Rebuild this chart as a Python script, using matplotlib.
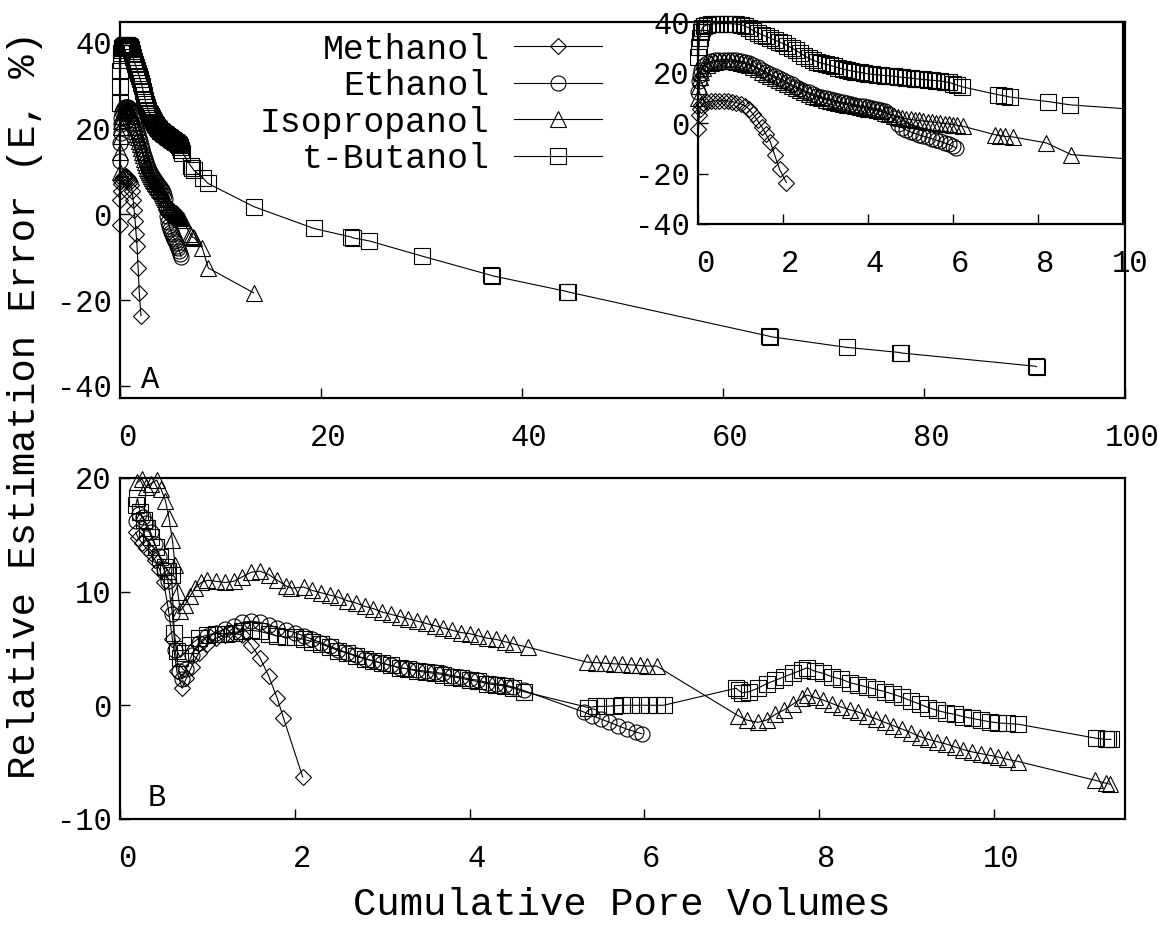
import numpy as np
import matplotlib
matplotlib.use("Agg")
import matplotlib.pyplot as plt
from matplotlib.transforms import ScaledTranslation

plt.rcParams['font.family'] = ['Liberation Mono', 'DejaVu Sans Mono']
plt.rcParams['axes.unicode_minus'] = False

# ---- panel A (and the 0-10 inset): relative error vs pore volumes ----
a_meth_x = [0.01, 0.03, 0.05, 0.08, 0.12, 0.2, 0.3, 0.4, 0.5, 0.6, 0.7, 0.8, 0.9, 1.0,
            1.1, 1.2, 1.3, 1.4, 1.5, 1.6, 1.7, 1.8, 1.92, 2.08]
a_meth_y = [-2.5, 3.3, 5.5, 7.0, 7.8, 8.3, 8.6, 8.8, 8.9, 8.9, 8.8, 8.5, 8.1, 7.6,
            6.9, 5.5, 3.4, 1.0, -1.5, -4.5, -7.5, -12.5, -18.4, -23.6]

a_eth_x = [0.01, 0.03, 0.05, 0.08, 0.12, 0.2, 0.3, 0.4, 0.5, 0.6, 0.7, 0.8, 0.9, 1.0,
           1.1, 1.2, 1.3, 1.4, 1.5, 1.6, 1.7, 1.8, 1.9, 2.0, 2.1, 2.2, 2.3, 2.4, 2.5,
           2.6, 2.7, 2.8, 2.9, 3.0, 3.1, 3.2, 3.3, 3.4, 3.5, 3.6, 3.7, 3.8, 3.9, 4.0,
           4.1, 4.2, 4.3, 4.4, 4.5, 4.6, 4.7, 4.8, 4.9, 5.0, 5.1, 5.2, 5.3, 5.4, 5.5,
           5.6, 5.7, 5.8, 5.9, 6.0, 6.08]
a_eth_y = [12.4, 16.5, 19.0, 21.0, 22.5, 23.8, 24.4, 24.8, 25.0, 25.1, 25.1, 25.0, 24.8, 24.5,
           24.1, 23.6, 22.9, 22.0, 21.0, 20.1, 19.3, 18.6, 17.8, 17.0, 16.2, 15.3, 14.4, 13.6, 12.8,
           12.1, 11.5, 10.9, 10.4, 9.9, 9.5, 9.0, 8.6, 8.2, 7.9, 7.5, 7.2, 6.9, 6.6, 6.3,
           6.0, 5.7, 5.3, 4.6, 3.5, 1.8, -0.4, -1.8, -2.8, -3.5, -4.1, -4.7, -5.2, -5.7, -6.2,
           -6.8, -7.3, -7.9, -8.5, -9.2, -9.9]

a_iso_x = [0.01, 0.03, 0.05, 0.08, 0.12, 0.2, 0.3, 0.4, 0.5, 0.6, 0.7, 0.8, 0.9, 1.0,
           1.1, 1.2, 1.3, 1.4, 1.5, 1.6, 1.7, 1.8, 1.9, 2.0, 2.1, 2.2, 2.3, 2.4, 2.5,
           2.6, 2.7, 2.8, 2.9, 3.0, 3.1, 3.2, 3.3, 3.4, 3.5, 3.6, 3.7, 3.8, 3.9, 4.0,
           4.1, 4.2, 4.3, 4.4, 4.5, 4.6, 4.7, 4.8, 4.9, 5.0, 5.1, 5.2, 5.3, 5.4, 5.5,
           5.6, 5.7, 5.8, 5.9, 6.0, 6.1, 6.24, 6.98, 7.1, 7.22, 7.41, 8.2, 8.78, 13.3]
a_iso_y = [9.8, 14.5, 18.3, 20.3, 21.8, 23.0, 23.8, 24.2, 24.4, 24.5, 24.5, 24.4, 24.2, 23.9,
           23.5, 23.0, 22.3, 21.4, 20.4, 19.5, 18.7, 17.9, 17.1, 16.3, 15.5, 14.6, 13.8, 13.0, 12.2,
           11.5, 10.9, 10.3, 9.8, 9.3, 8.9, 8.5, 8.1, 7.7, 7.3, 7.0, 6.6, 6.3, 6.0, 5.7,
           5.4, 5.0, 4.6, 4.1, 3.5, 2.9, 2.4, 2.0, 1.7, 1.4, 1.2, 1.0, 0.8, 0.6, 0.4,
           0.2, 0.0, -0.2, -0.4, -0.6, -0.9, -1.3, -4.6, -5.0, -5.3, -5.5, -7.9, -12.5, -18.3]

a_tbu_x = [0.01, 0.02, 0.04, 0.07, 0.1, 0.15, 0.2, 0.3, 0.4, 0.5, 0.6, 0.7, 0.8, 0.9, 1.0,
           1.1, 1.2, 1.3, 1.4, 1.5, 1.6, 1.7, 1.8, 1.9, 2.0, 2.1, 2.2, 2.3, 2.4, 2.5,
           2.6, 2.7, 2.8, 2.9, 3.0, 3.1, 3.2, 3.3, 3.4, 3.5, 3.6, 3.7, 3.8, 3.9, 4.0,
           4.1, 4.2, 4.3, 4.4, 4.5, 4.6, 4.7, 4.8, 4.9, 5.0, 5.1, 5.2, 5.3, 5.4, 5.5,
           5.6, 5.7, 5.8, 5.9, 6.0, 6.1, 6.2, 7.06, 7.2, 7.33, 8.24, 8.75, 13.3, 19.3,
           23.0, 23.2, 24.8, 30.0, 36.9, 37.0, 44.5, 44.6, 64.6, 64.7, 72.3, 77.6, 77.7,
           91.1, 91.2]
a_tbu_y = [26.0, 30.0, 33.5, 36.0, 37.6, 38.4, 38.8, 39.1, 39.3, 39.4, 39.4, 39.4, 39.3, 39.2, 39.0,
           38.5, 37.6, 36.6, 35.7, 35.0, 34.3, 33.6, 32.9, 32.2, 31.5, 30.7, 29.8, 28.8, 27.8, 26.7,
           25.7, 24.9, 24.3, 23.7, 23.3, 22.9, 22.4, 21.9, 21.4, 21.0, 20.7, 20.4, 20.1, 19.8, 19.5,
           19.3, 19.1, 19.0, 18.8, 18.7, 18.5, 18.3, 18.1, 18.0, 17.8, 17.6, 17.4, 17.3, 17.1, 16.9,
           16.8, 16.6, 16.4, 16.1, 15.6, 15.0, 14.4, 11.2, 10.8, 10.3, 8.5, 7.2, 1.8, -3.3,
           -5.3, -5.5, -6.2, -9.7, -14.2, -14.3, -18.0, -18.1, -28.4, -28.5, -31.0, -32.2, -32.3,
           -35.4, -35.5]

# ---- panel B ----
b_meth_x = [0.18, 0.21, 0.25, 0.3, 0.35, 0.4, 0.45, 0.5, 0.55, 0.6, 0.65, 0.71, 0.76, 0.82,
            0.9, 1.0, 1.1, 1.2, 1.3, 1.4, 1.5, 1.6, 1.7, 1.8, 1.87, 2.09]
b_meth_y = [15.2, 14.7, 14.3, 13.8, 13.4, 12.8, 12.0, 10.8, 8.6, 5.8, 3.0, 1.5, 2.4, 3.4,
            4.6, 5.4, 5.9, 6.2, 6.3, 6.2, 5.3, 4.2, 2.6, 0.6, -1.1, -6.3]

b_eth_x = [0.18, 0.22, 0.26, 0.3, 0.35, 0.4, 0.45, 0.5, 0.55, 0.6, 0.63, 0.67, 0.71, 0.76,
           0.82, 0.9, 1.0, 1.1, 1.2, 1.3, 1.4, 1.5, 1.6, 1.7, 1.8, 1.9, 2.0, 2.1, 2.2,
           2.3, 2.4, 2.5, 2.6, 2.7, 2.8, 2.9, 3.0, 3.1, 3.2, 3.3, 3.4, 3.5, 3.6, 3.7,
           3.8, 3.9, 4.0, 4.1, 4.2, 4.3, 4.4, 4.5, 4.62, 5.31, 5.4, 5.5, 5.6, 5.7, 5.8,
           5.9, 5.97]
b_eth_y = [16.2, 16.8, 16.6, 16.0, 15.2, 14.2, 13.1, 12.0, 10.9, 8.0, 4.9, 3.0, 2.3, 3.2,
           4.4, 5.5, 6.1, 6.4, 6.7, 7.0, 7.3, 7.4, 7.3, 7.1, 6.8, 6.6, 6.4, 6.1, 5.8,
           5.5, 5.2, 4.9, 4.6, 4.4, 4.1, 3.9, 3.7, 3.5, 3.3, 3.2, 3.1, 3.0, 2.9, 2.8,
           2.6, 2.5, 2.3, 2.2, 2.0, 1.9, 1.8, 1.6, 1.3, -0.6, -0.9, -1.2, -1.5, -1.8, -2.1,
           -2.35, -2.5]

b_iso_x = [0.2, 0.25, 0.3, 0.35, 0.42, 0.47, 0.52, 0.56, 0.6, 0.63, 0.66, 0.69, 0.74, 0.8,
           0.86, 0.93, 1.0, 1.1, 1.2, 1.3, 1.4, 1.5, 1.6, 1.7, 1.8, 1.9, 1.96, 2.1, 2.2,
           2.3, 2.4, 2.5, 2.6, 2.7, 2.8, 2.9, 3.0, 3.1, 3.2, 3.3, 3.4, 3.5, 3.6, 3.7,
           3.8, 3.9, 4.0, 4.1, 4.2, 4.3, 4.4, 4.5, 4.67, 5.34, 5.45, 5.55, 5.65, 5.75, 5.85,
           5.95, 6.03, 6.14, 7.07, 7.17, 7.3, 7.4, 7.5, 7.6, 7.7, 7.8, 7.86, 7.95, 8.05,
           8.15, 8.25, 8.35, 8.45, 8.55, 8.65, 8.75, 8.85, 8.95, 9.05, 9.15, 9.25, 9.35, 9.45,
           9.55, 9.65, 9.75, 9.85, 9.95, 10.05, 10.15, 10.28, 11.16, 11.28, 11.33]
b_iso_y = [19.6, 19.9, 19.2, 19.5, 19.8, 19.0, 18.0, 16.5, 14.5, 12.3, 10.0, 8.3, 8.8, 9.6,
           10.3, 10.8, 11.0, 10.9, 10.8, 10.9, 11.3, 11.7, 11.8, 11.5, 11.0, 10.5, 10.3, 10.4, 10.1,
           9.9, 9.7, 9.5, 9.2, 9.0, 8.7, 8.5, 8.2, 8.0, 7.8, 7.6, 7.4, 7.2, 7.0, 6.8,
           6.6, 6.4, 6.3, 6.1, 5.9, 5.8, 5.6, 5.4, 5.1, 3.8, 3.75, 3.7, 3.65, 3.6, 3.55,
           3.5, 3.45, 3.45, -0.9, -1.3, -1.5, -1.3, -0.8, -0.4, 0.1, 0.6, 0.9, 0.7, 0.45,
           0.15, -0.15, -0.4, -0.6, -0.9, -1.2, -1.5, -1.8, -2.1, -2.4, -2.75, -3.0, -3.2, -3.4,
           -3.65, -3.9, -4.1, -4.25, -4.4, -4.55, -4.75, -4.95, -6.6, -6.85, -6.95]

b_tbu_x = [0.18, 0.2, 0.23, 0.27, 0.31, 0.36, 0.41, 0.46, 0.51, 0.55, 0.59, 0.62, 0.65, 0.69,
           0.74, 0.8, 0.9, 1.0, 1.1, 1.2, 1.3, 1.4, 1.5, 1.6, 1.7, 1.8, 1.9, 2.0, 2.1,
           2.2, 2.3, 2.4, 2.5, 2.6, 2.7, 2.8, 2.9, 3.0, 3.1, 3.2, 3.3, 3.4, 3.5, 3.6,
           3.7, 3.8, 3.9, 4.0, 4.1, 4.2, 4.3, 4.4, 4.5, 4.62, 5.36, 5.45, 5.55, 5.65, 5.75,
           5.85, 5.95, 6.05, 6.15, 6.22, 7.05, 7.08, 7.12, 7.2, 7.3, 7.4, 7.5, 7.6, 7.7,
           7.8, 7.86, 7.95, 8.05, 8.15, 8.25, 8.35, 8.45, 8.55, 8.65, 8.75, 8.85, 8.95, 9.05,
           9.15, 9.25, 9.35, 9.45, 9.55, 9.65, 9.75, 9.85, 9.95, 10.05, 10.15, 10.28, 11.17, 11.28,
           11.31, 11.34]
b_tbu_y = [17.6, 18.2, 17.0, 16.3, 15.6, 14.8, 13.9, 13.0, 12.2, 11.8, 11.5, 6.4, 4.8, 4.2,
           4.6, 5.3, 5.9, 6.2, 6.3, 6.3, 6.4, 6.5, 6.6, 6.5, 6.3, 6.1, 6.0, 6.0, 5.8,
           5.6, 5.4, 5.1, 4.8, 4.6, 4.3, 4.1, 3.9, 3.7, 3.5, 3.3, 3.2, 3.0, 2.9, 2.8,
           2.7, 2.5, 2.4, 2.2, 2.1, 1.9, 1.8, 1.7, 1.5, 1.2, -0.2, -0.1, -0.1, -0.05, 0.0,
           0.0, 0.0, 0.0, 0.0, 0.0, 1.5, 1.3, 1.1, 1.2, 1.5, 1.9, 2.2, 2.5, 2.8,
           3.1, 3.3, 3.0, 2.8, 2.5, 2.3, 2.0, 1.8, 1.6, 1.4, 1.2, 0.97, 0.7, 0.4,
           0.1, -0.2, -0.45, -0.65, -0.8, -1.0, -1.15, -1.3, -1.45, -1.55, -1.6, -1.67, -2.9, -3.0,
           -3.0, -3.0]

labels = ['Methanol', 'Ethanol', 'Isopropanol', 't-Butanol']
markers = ['D', 'o', '^', 's']
msizes = [8.2, 10.8, 11.5, 11.0]

series_a = [(a_meth_x, a_meth_y), (a_eth_x, a_eth_y), (a_iso_x, a_iso_y), (a_tbu_x, a_tbu_y)]
series_b = [(b_meth_x, b_meth_y), (b_eth_x, b_eth_y), (b_iso_x, b_iso_y), (b_tbu_x, b_tbu_y)]

fig = plt.figure(figsize=(11.63, 9.26), dpi=100)
axA = fig.add_axes([0.1032, 0.5702, 0.8641, 0.4060])
axB = fig.add_axes([0.1032, 0.1156, 0.8641, 0.3683])
axI = fig.add_axes([0.6002, 0.7581, 0.3654, 0.2181])


def style(ax, size=22):
    for sp in ax.spines.values():
        sp.set_linewidth(1.6)
    ax.tick_params(direction='in', length=7, width=1, labelsize=size,
                   top=False, right=False)
    ax.tick_params(axis='x', pad=18)
    ax.tick_params(axis='y', pad=6)
    # gnuplot puts the x labels a little right of their ticks
    shift = ScaledTranslation(7 / 100, 0, fig.dpi_scale_trans)
    for t in ax.get_xticklabels():
        t.set_transform(t.get_transform() + shift)


kw = dict(color='k', lw=0.8, mfc='none', mec='k', mew=0.8)

for (x, y), lab, m, ms in zip(series_a, labels, markers, msizes):
    axA.plot(x, y, marker=m, ms=ms, label=lab, clip_on=False, **kw)

for (x, y), m, ms in zip(series_b, markers, msizes):
    axB.plot(x, y, marker=m, ms=ms, clip_on=False, **kw)

# inset: line clipped at the frame, points left unclipped like the original
for (x, y), m, ms in zip(series_a, markers, msizes):
    x = np.array(x)
    y = np.array(y)
    axI.plot(x, y, color='k', lw=0.8)
    keep = x <= 10
    axI.plot(x[keep], y[keep], ls='none', marker=m, ms=ms, mfc='none',
             mec='k', mew=0.8, clip_on=False)

axA.set_xlim(0, 100)
axA.set_ylim(-42.8, 44.8)
axA.set_xticks([0, 20, 40, 60, 80, 100])
axA.set_yticks([-40, -20, 0, 20, 40])
style(axA)
axA.text(0.03, 0.048, 'A', transform=axA.transAxes, fontsize=22,
         ha='center', va='center')

axB.set_xlim(0, 11.5)
axB.set_ylim(-10, 20)
axB.set_xticks([0, 2, 4, 6, 8, 10])
axB.set_yticks([-10, 0, 10, 20])
style(axB)
axB.text(0.037, 0.062, 'B', transform=axB.transAxes, fontsize=22,
         ha='center', va='center')

axI.set_facecolor('white')
axI.set_xlim(0, 10)
axI.set_ylim(-40, 40)
axI.set_xticks([0, 2, 4, 6, 8, 10])
axI.set_yticks([-40, -20, 0, 20, 40])
style(axI)

leg = axA.legend(loc='upper right', bbox_to_anchor=(0.48, 0.972), frameon=False,
                 markerfirst=False, fontsize=25, handlelength=2.56,
                 handletextpad=0.69, labelspacing=0.1, borderpad=0,
                 borderaxespad=0, numpoints=1)

fig.text(25 / 1163, 1 - 405 / 926, 'Relative Estimation Error (E, %)',
         rotation=90, ha='center', va='center', fontsize=28)
fig.text(622 / 1163, 1 - 905 / 926, 'Cumulative Pore Volumes',
         ha='center', va='center', fontsize=28)

fig.savefig('out.png', dpi=100)
